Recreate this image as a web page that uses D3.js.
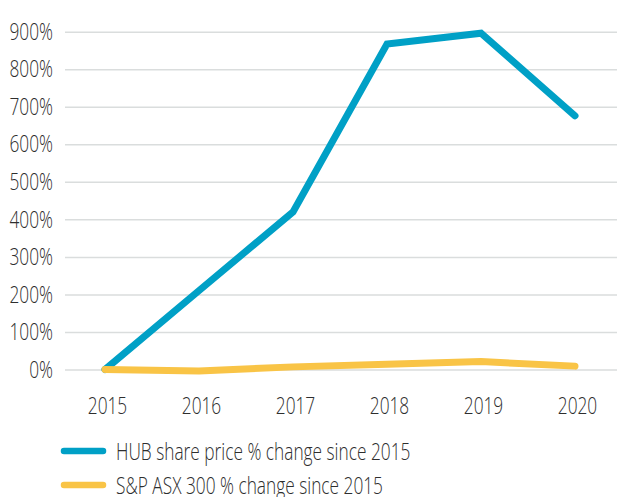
<!DOCTYPE html>
<html>
<head>
<meta charset="utf-8">
<script src="https://cdn.jsdelivr.net/npm/d3@7"></script>
<style>
  html, body { margin: 0; padding: 0; background: #fff; }
  svg text { font-family: "Open Sans", "Liberation Sans", sans-serif; font-weight: 300; fill: #2e2e2e; }
</style>
</head>
<body>
<svg id="chart" width="618" height="497"></svg>
<script>
const years = ["2015", "2016", "2017", "2018", "2019", "2020"];
const hubValues = [0, 210, 420, 867, 896, 676];
const asxValues = [0, -4, 7, 14, 21, 9];
const yTicks = [0, 100, 200, 300, 400, 500, 600, 700, 800, 900];
const seriesNames = ["HUB share price % change since 2015", "S&P ASX 300 % change since 2015"];
const seriesColors = ["#00a0c6", "#f9c446"];

const FS = 24;
const SQUEEZE = 0.72;
function condense(sel) {
  sel.each(function () {
    const w = this.getComputedTextLength();
    d3.select(this).attr("textLength", w * SQUEEZE).attr("lengthAdjust", "spacingAndGlyphs");
  });
}

const svg = d3.select("#chart");
const x = d3.scalePoint().domain(years).range([105, 575]);
const y = d3.scaleLinear().domain([0, 900]).range([369.5, 31.7]);

// gridlines + y labels
const yAxis = d3.axisLeft(y).tickValues(yTicks).tickFormat(d => d + "%")
  .tickSize(-(617 - 65)).tickPadding(12);
const gy = svg.append("g").attr("transform", "translate(65,0)").call(yAxis);
gy.select(".domain").remove();
gy.selectAll(".tick line").attr("stroke", "#dadddd").attr("stroke-width", 1.5);
gy.selectAll(".tick text").attr("font-size", FS).attr("font-family", null).attr("dy", "0.32em").call(condense);

// x axis labels
const xAxis = d3.axisBottom(x).tickSize(0).tickPadding(0);
const gx = svg.append("g").attr("transform", "translate(2,397)").call(xAxis);
gx.select(".domain").remove();
gx.selectAll(".tick text").attr("font-size", FS).attr("font-family", null).attr("dy", "0.72em").call(condense);

const line = d3.line().x((d, i) => x(years[i])).y(d => y(d));

const paths = [hubValues, asxValues].map((vals, k) =>
  svg.append("path")
    .datum(vals)
    .attr("d", line)
    .attr("fill", "none")
    .attr("stroke", seriesColors[k])
    .attr("stroke-width", 7)
    .attr("stroke-linejoin", "miter")
    .attr("stroke-linecap", "round"));

// legend
const legendY = [451, 485];
seriesNames.forEach((name, k) => {
  const g = svg.append("g").attr("transform", `translate(0,${legendY[k]})`);
  g.append("line").attr("x1", 64).attr("x2", 103).attr("y1", 0).attr("y2", 0)
    .attr("stroke", seriesColors[k]).attr("stroke-width", 6.5).attr("stroke-linecap", "round");
  g.append("text").attr("x", 116).attr("y", 0).attr("dy", "0.36em")
    .attr("font-size", FS).text(name).call(condense);
});
</script>
</body>
</html>
